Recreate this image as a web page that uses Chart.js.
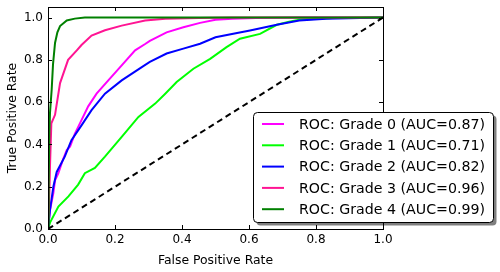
<!DOCTYPE html>
<html>
<head>
<meta charset="utf-8">
<script src="https://cdn.jsdelivr.net/npm/chart.js@4/dist/chart.umd.min.js"></script>
<style>
  html, body { margin: 0; padding: 0; background: #fff; }
  #wrap { width: 500px; height: 272px; }
</style>
</head>
<body>
<div id="wrap"><canvas id="roc" width="500" height="272"></canvas></div>
<script>
// ROC curves (false positive rate / true positive rate)
const fprGrade0 = [0, 0.006, 0.016, 0.021, 0.031, 0.045, 0.056, 0.066, 0.08, 0.1, 0.12, 0.145, 0.18, 0.22, 0.26, 0.29, 0.304, 0.354, 0.404, 0.454, 0.5, 0.55, 0.62, 0.75, 1];
const tprGrade0 = [0, 0.09, 0.17, 0.23, 0.264, 0.33, 0.373, 0.39, 0.45, 0.515, 0.58, 0.64, 0.703, 0.774, 0.845, 0.875, 0.89, 0.93, 0.954, 0.975, 0.99, 0.995, 0.998, 1, 1];

const fprGrade1 = [0, 0.006, 0.031, 0.061, 0.09, 0.11, 0.14, 0.17, 0.22, 0.27, 0.32, 0.35, 0.384, 0.434, 0.484, 0.533, 0.573, 0.633, 0.683, 0.72, 0.75, 0.85, 1];
const tprGrade1 = [0, 0.03, 0.106, 0.154, 0.21, 0.264, 0.289, 0.342, 0.436, 0.53, 0.593, 0.64, 0.695, 0.758, 0.805, 0.86, 0.9, 0.923, 0.966, 0.98, 0.99, 0.998, 1];

const fprGrade2 = [0, 0.006, 0.016, 0.026, 0.05, 0.07, 0.1, 0.13, 0.17, 0.22, 0.28, 0.304, 0.354, 0.404, 0.454, 0.5, 0.553, 0.603, 0.683, 0.75, 0.83, 1];
const tprGrade2 = [0, 0.09, 0.2, 0.27, 0.342, 0.42, 0.49, 0.562, 0.64, 0.703, 0.766, 0.79, 0.83, 0.853, 0.876, 0.907, 0.923, 0.939, 0.966, 0.986, 0.995, 1];

const fprGrade3 = [0, 0.003, 0.006, 0.01, 0.021, 0.036, 0.06, 0.086, 0.1, 0.13, 0.17, 0.22, 0.29, 0.35, 0.45, 0.55, 1];
const tprGrade3 = [0, 0.1, 0.3, 0.5, 0.54, 0.69, 0.8, 0.845, 0.87, 0.915, 0.94, 0.962, 0.986, 0.994, 0.998, 1, 1];

const fprGrade4 = [0, 0.002, 0.004, 0.006, 0.011, 0.015, 0.021, 0.028, 0.036, 0.056, 0.08, 0.11, 1];
const tprGrade4 = [0, 0.2, 0.45, 0.55, 0.66, 0.78, 0.88, 0.93, 0.96, 0.986, 0.995, 1, 1];

const chanceX = [0, 1];
const chanceY = [0, 1];

const gradeLabels = ['ROC: Grade 0 (AUC=0.87)', 'ROC: Grade 1 (AUC=0.71)', 'ROC: Grade 2 (AUC=0.82)', 'ROC: Grade 3 (AUC=0.96)', 'ROC: Grade 4 (AUC=0.99)'];
const gradeColors = ['#ff00ff', '#00ff00', '#0000ff', '#ff1493', '#008000'];
const tickValues = [0, 0.2, 0.4, 0.6, 0.8, 1.0];

const FONT = '"DejaVu Sans", sans-serif';

function pts(xs, ys) {
  return xs.map((x, i) => ({ x: x, y: ys[i] }));
}

const curves = [
  [fprGrade0, tprGrade0],
  [fprGrade1, tprGrade1],
  [fprGrade2, tprGrade2],
  [fprGrade3, tprGrade3],
  [fprGrade4, tprGrade4]
];

const datasets = curves.map((c, i) => ({
  label: gradeLabels[i],
  data: pts(c[0], c[1]),
  borderColor: gradeColors[i],
  backgroundColor: gradeColors[i],
  borderWidth: 2,
  pointRadius: 0,
  showLine: true,
  fill: false,
  order: 10 - i
}));
datasets.push({
  label: 'chance',
  data: pts(chanceX, chanceY),
  borderColor: '#000',
  borderWidth: 2,
  borderDash: [6, 4],
  pointRadius: 0,
  showLine: true,
  fill: false,
  order: 0
});

// frame with inward ticks on all four sides (matplotlib classic look)
const framePlugin = {
  id: 'frame',
  afterDatasetsDraw(chart) {
    const { ctx, chartArea: a, scales } = chart;
    ctx.save();
    ctx.strokeStyle = '#000';
    ctx.lineWidth = 1;
    ctx.beginPath();
    tickValues.forEach(v => {
      const x = Math.round(scales.x.getPixelForValue(v)) + 0.5;
      ctx.moveTo(x, a.bottom); ctx.lineTo(x, a.bottom - 4);
      ctx.moveTo(x, a.top); ctx.lineTo(x, a.top + 4);
      const y = Math.round(scales.y.getPixelForValue(v)) + 0.5;
      ctx.moveTo(a.left, y); ctx.lineTo(a.left + 4, y);
      ctx.moveTo(a.right, y); ctx.lineTo(a.right - 4, y);
    });
    ctx.stroke();
    ctx.strokeRect(Math.round(a.left) + 0.5, Math.round(a.top) + 0.5,
      Math.round(a.right - a.left), Math.round(a.bottom - a.top));
    ctx.restore();
  }
};

// legend box sitting at lower right, partly outside the axes
const legendPlugin = {
  id: 'rocLegend',
  afterDraw(chart) {
    const { ctx } = chart;
    const items = chart.data.datasets.filter(d => d.label.startsWith('ROC'));
    const bx = 253.5, by = 112.5, bw = 240, bh = 110, r = 4;
    ctx.save();
    const box = (x, y) => {
      ctx.beginPath();
      ctx.roundRect(x, y, bw, bh, r);
    };
    box(bx + 3, by + 3);
    ctx.fillStyle = 'rgba(0,0,0,0.5)';
    ctx.fill();
    box(bx, by);
    ctx.fillStyle = '#fff';
    ctx.fill();
    ctx.strokeStyle = '#000';
    ctx.lineWidth = 1;
    ctx.stroke();
    ctx.font = '14.2px ' + FONT;
    ctx.textBaseline = 'middle';
    items.forEach((d, i) => {
      const y = 124 + i * 21.3;
      ctx.strokeStyle = d.borderColor;
      ctx.lineWidth = 2;
      ctx.beginPath();
      ctx.moveTo(262, y); ctx.lineTo(284, y);
      ctx.stroke();
      ctx.fillStyle = '#000';
      ctx.fillText(d.label, 299, y + 1);
    });
    ctx.restore();
  }
};

new Chart(document.getElementById('roc'), {
  type: 'scatter',
  data: { datasets },
  plugins: [framePlugin, legendPlugin],
  options: {
    responsive: false,
    animation: false,
    layout: { padding: { top: 7, right: 117, left: 0, bottom: 0 } },
    plugins: { legend: { display: false }, tooltip: { enabled: false } },
    scales: {
      x: {
        type: 'linear', min: 0, max: 1,
        grid: { display: false, drawTicks: false },
        border: { display: false },
        afterBuildTicks: s => { s.ticks = tickValues.map(v => ({ value: v })); },
        afterFit: s => { s.height = 43; s.paddingLeft = 0; s.paddingRight = 0; },
        ticks: {
          color: '#000', padding: 4,
          font: { family: FONT, size: 12 },
          callback: v => v.toFixed(1)
        },
        title: { display: true, text: 'False Positive Rate', color: '#000',
          font: { family: FONT, size: 12.4 }, padding: { top: 4 } }
      },
      y: {
        type: 'linear', min: 0, max: 1.05,
        grid: { display: false, drawTicks: false },
        border: { display: false },
        afterBuildTicks: s => { s.ticks = tickValues.map(v => ({ value: v })); },
        afterFit: s => { s.width = 48; s.paddingTop = 0; s.paddingBottom = 0; },
        ticks: {
          color: '#000', padding: 5,
          font: { family: FONT, size: 12 },
          callback: v => v.toFixed(1)
        },
        title: { display: true, text: 'True Positive Rate', color: '#000',
          font: { family: FONT, size: 12.4 }, padding: { top: 5 } }
      }
    }
  }
});
</script>
</body>
</html>
